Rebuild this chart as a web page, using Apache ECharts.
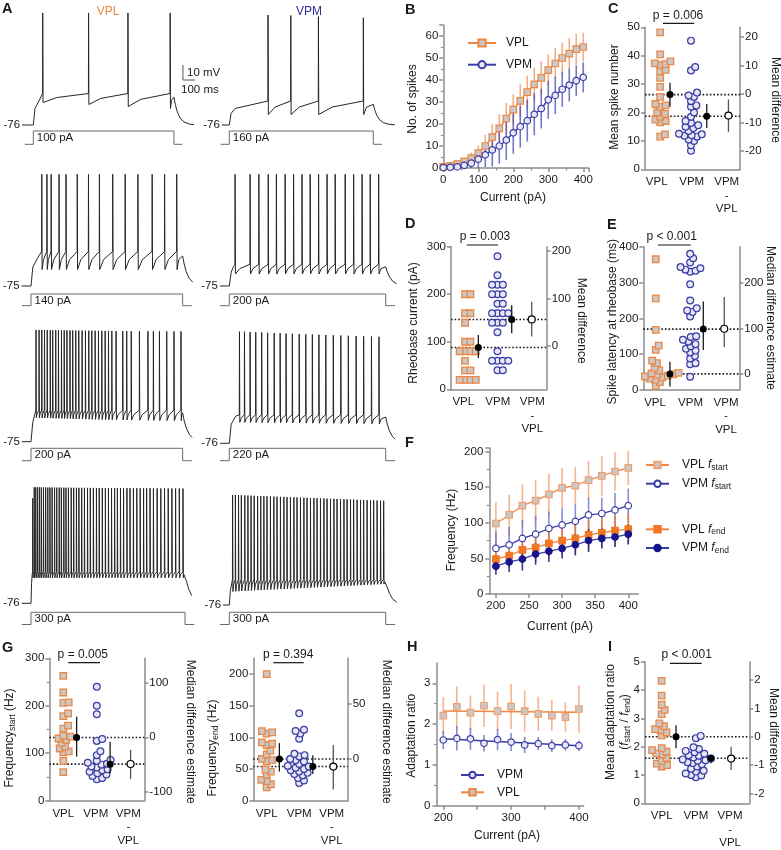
<!DOCTYPE html>
<html>
<head>
<meta charset="utf-8">
<title>VPL vs VPM firing</title>
<script src="https://cdn.jsdelivr.net/npm/echarts@6/dist/echarts.min.js"></script>
<style>
  html, body { margin: 0; padding: 0; background: #fff; }
  #main { width: 781px; height: 850px; }
</style>
</head>
<body>
<div id="main"></div>
<script>
'use strict';

// ---------- A: current steps and spike times (ms after step onset) ----------
var stimLabels = ['100 pA', '160 pA', '140 pA', '200 pA', '200 pA', '220 pA', '300 pA', '300 pA'];
var stimTimes = [-30, 0, 0, 500, 500, 530];
var stimLevels = [0, 0, 1, 1, 0, 0];

var spikesVpl100 = [33, 196, 336, 486];
var spikesVpm160 = [134, 213, 309, 465];
var spikesVpl140 = [35, 52, 66, 92, 115, 152, 189, 225, 269, 310, 352, 399, 440, 480];
var spikesVpm200 = [18, 66, 94, 124, 150, 178, 205, 232, 258, 285, 312, 338, 370, 397, 424, 450, 477];
var spikesVpl200 = [16, 26, 35, 44, 53, 63, 71, 81, 90, 100, 109, 118, 128, 137, 147, 157, 168, 179, 190, 200,
  211, 222, 233, 244, 255, 266, 280, 302, 315, 330, 357, 385, 403, 423, 447, 471, 494];
var spikesVpm220 = [32, 48, 66, 84, 103, 122, 143, 162, 181, 201, 223, 244, 265, 286, 308, 332, 356, 380, 405, 429, 454, 478];
var spikesVpl300 = [5, 10, 15, 21, 27, 33, 40, 47, 54, 61, 68, 76, 83, 91, 98, 106, 113, 121, 130, 138, 147, 155,
  164, 173, 183, 192, 202, 212, 221, 231, 241, 251, 261, 271, 280, 290, 300, 311, 321, 332, 343, 354, 365, 375,
  386, 397, 409, 421, 433, 445, 457, 469, 481, 493];
var spikesVpm300 = [10, 19, 29, 38, 49, 59, 69, 79, 90, 100, 110, 120, 131, 142, 152, 163, 174, 184, 195, 206, 216,
  227, 238, 248, 259, 270, 280, 291, 302, 312, 323, 334, 344, 355, 366, 376, 387, 397, 408, 419, 429, 440, 451,
  461, 472, 483, 493];

// membrane levels (mV) per trace: rest, after onset, spike threshold, peak [first, second, last], AHP [first, last]
var traceRest = [-76, -76, -75, -75, -75, -76, -76, -76];
var traceOnset = [-60, -65, -57, -62, -57, -58, -57, -62];
var traceThreshold = [-55, -60, -52, -60.5, -54, -57, -55, -59];
var tracePeak = [[-1.3, -1.3, -1.3], [-2.7, -3, -4.5], [-0.5, -0.5, -0.5], [-0.5, -0.5, -0.5],
  [-0.5, -0.5, -1.5], [-1.6, -1.6, -5], [-6, 1.3, 0.5], [-2.7, -2.7, -6.5]];
var traceAhp = [[-61, -65], [-69, -69], [-64, -64], [-67, -67], [-59, -61], [-62, -63], [-59, -59], [-67, -62]];
var traceWindow = [[-40, 571], [-26, 575], [-31, 533], [-30, 535], [-30, 531], [-30, 530], [-30, 522], [-20, 535]];
var scaleBar = [100, 10]; // ms, mV

// ---------- B ----------
var currentB = [0, 20, 40, 60, 80, 100, 120, 140, 160, 180, 200, 220, 240, 260, 280, 300, 320, 340, 360, 380, 400];
var spikeCountVpl = [0.5, 1, 1.8, 3, 4.5, 6.8, 10, 14, 18, 22.5, 26.5, 30.5, 34.5, 38, 41, 44.5, 47.5, 50, 52, 54, 55];
var spikeCountVplSem = [0.3, 0.6, 1, 1.5, 2.5, 3.5, 5, 6, 6.5, 7, 7, 7.5, 7.5, 7.5, 7.5, 7, 7, 7, 7, 7, 6.5];
var spikeCountVpm = [0.2, 0.3, 0.5, 1.2, 2.2, 4, 6, 8.2, 10, 12.7, 16, 18.8, 21.5, 24.4, 27, 31, 33, 35.8, 37.7, 39.7, 41.2];
var spikeCountVpmSem = [0.2, 0.4, 0.7, 1.5, 2.5, 4, 5.5, 7.5, 8, 9, 9.5, 9.5, 9.5, 9.5, 9, 8.6, 8.5, 8, 7.5, 7, 6.8];

// ---------- C, D, E, G, I: single cells and [centre, low, high] of VPL, VPM, VPM-VPL ----------
var groupNames = ['VPL', 'VPM', 'VPM\n-\nVPL'];
var pValues = ['p = 0.006', 'p = 0.003', 'p < 0.001', 'p = 0.005', 'p = 0.394', 'p < 0.001'];

var spikeNumVpl = [48.2, 40.5, 38, 37.3, 37, 36.8, 35, 34.5, 32.2, 29, 25.5, 23, 22.5, 22, 20, 19.5, 18.5, 17.5, 17, 16.5, 12.3, 11.5];
var spikeNumVpm = [45.3, 36, 34.8, 27, 26, 25.5, 24, 22.5, 22, 20, 18.5, 17, 16.3, 15.5, 15, 14.5, 13.5, 12.5, 12.3, 12, 11.8, 11.5, 10.5, 10, 8.5, 6.5];
var spikeNumStats = [[26.3, 22, 30.5], [18.7, 14.5, 23], [-7.6, -13.3, -1.9]];
var spikeNumRightTicks = [-20, -10, 0, 10, 20];

var rheobaseVpl = [200, 200, 160, 160, 140, 100, 100, 80, 80, 80, 80, 60, 40, 40, 20, 20, 20, 20];
var rheobaseVpm = [280, 240, 220, 220, 220, 200, 200, 200, 180, 180, 160, 160, 160, 160, 140, 140, 140, 120, 80, 60, 60, 60, 60, 40, 40];
var rheobaseStats = [[88, 66, 114], [147, 118, 177], [56, 20, 93]];
var rheobaseRightTicks = [0, 100, 200];

var latencyVpl = [365, 256, 168, 124, 112, 82, 75, 62, 55, 48, 46, 45, 44, 43, 42, 40, 38, 35, 32, 28, 22, 12];
var latencyVpm = [380, 368, 356, 343, 340, 336, 333, 330, 295, 250, 228, 222, 218, 205, 150, 148, 140, 135, 128, 122, 115, 110, 105, 95, 88, 75, 72, 37];
var latencyStats = [[45, 10, 79], [170, 112, 247], [100, 60, 170]];
var latencyRightTicks = [0, 100, 200];

var fStartCellsVpl = [263, 228, 207, 206, 184, 178, 158, 152, 137, 135, 131, 128, 122, 114, 110, 104, 102, 84, 60];
var fStartCellsVpm = [240, 200, 182, 130, 126, 104, 96, 86, 84, 80, 78, 76, 72, 70, 66, 64, 61, 58, 55, 52, 48, 45];
var fStartStats = [[133, 93, 177], [77, 58, 124], [-49, -76.5, -23]];
var fStartRightTicks = [-100, 0, 100];

var fEndCellsVpl = [200, 110, 108, 106, 92, 90, 88, 79, 73, 66, 64, 62, 49, 46, 41, 33, 31, 26, 21];
var fEndCellsVpm = [138, 112, 110, 106, 98, 74, 72, 70, 66, 64, 62, 58, 55, 54, 52, 50, 48, 46, 44, 42, 40, 36, 32, 28];
var fEndStats = [[66, 46, 91], [54, 42, 72], [-7, -28, 12.8]];
var fEndLeftTicks = [0, 50, 100, 150, 200];
var fEndRightTicks = [0, 50];

var adaptCellsVpl = [4.32, 3.8, 3.48, 3.3, 3.15, 2.82, 2.72, 2.62, 2.58, 2.5, 2.4, 1.95, 1.88, 1.82, 1.76, 1.72, 1.6, 1.5, 1.4, 1.35, 1.3];
var adaptCellsVpm = [2.38, 2.3, 1.98, 1.92, 1.85, 1.8, 1.75, 1.7, 1.68, 1.62, 1.58, 1.55, 1.52, 1.5, 1.45, 1.42, 1.38, 1.3, 1.22, 1.15, 1.12, 1.05, 1.0, 0.98, 0.92];
var adaptStats = [[2.35, 1.94, 2.76], [1.59, 1.41, 1.7], [-0.77, -1.17, -0.35]];
var adaptRightTicks = [-2, -1, 0, 1, 2];

// ---------- F ----------
var currentF = [200, 220, 240, 260, 280, 300, 320, 340, 360, 380, 400];
var fStartVpl = [99, 111, 124, 131, 140, 149, 152, 160, 166, 172, 177];
var fStartVplSd = [30, 28, 30, 29, 29, 28, 26, 27, 28, 27, 24];
var fStartVpm = [64, 69, 78, 84, 92, 97, 102, 111, 113, 118, 124];
var fStartVpmSd = [24, 25, 26, 26, 24, 24, 24, 24, 22, 24, 24];
var fEndVpl = [49, 54, 62, 65, 71, 75, 78, 83, 86, 89, 91];
var fEndVplSd = [16, 17, 18, 20, 20, 21, 21, 21, 21, 22, 22];
var fEndVpm = [39, 45, 49, 56, 60, 64, 69, 75, 78, 80, 84];
var fEndVpmSd = [12, 14, 16, 15, 15, 14, 15, 16, 14, 14, 14];

// ---------- H ----------
var adaptVpl = [2.21, 2.42, 2.28, 2.45, 2.32, 2.43, 2.32, 2.25, 2.21, 2.17, 2.37];
var adaptVplSd = [0.45, 0.5, 0.42, 0.52, 0.48, 0.55, 0.5, 0.42, 0.38, 0.36, 0.58];
var adaptVpm = [1.61, 1.65, 1.64, 1.53, 1.62, 1.56, 1.49, 1.52, 1.47, 1.49, 1.47];
var adaptVpmSd = [0.22, 0.3, 0.27, 0.2, 0.26, 0.22, 0.2, 0.16, 0.16, 0.14, 0.13];
var adaptTicks = [0, 1, 2, 3];
var fitCurrent = [200, 400];
var adaptFitVpl = [2.32, 2.29];
var adaptFitVpm = [1.64, 1.47];

// ---------- styling ----------
var FONT = "'Liberation Sans', Arial, Helvetica, sans-serif";
var INK = '#1a1a1a';
var AXIS = '#8c8c8c';
var ORANGE = '#EE8743';
var ORANGE_BAR = 'rgba(240,140,80,0.7)';
var ORANGE_DARK = '#F27722';
var BLUE = '#3B3DA6';
var BLUE_BAR = 'rgba(70,72,180,0.75)';
var NAVY = '#16168A';
var GREYFILL = '#C8C8C8';
var LILAC = '#E8E8F5';
var TRACE = '#262626';

var grids = [], xAxes = [], yAxes = [], series = [], graphics = [], legends = [];

function zip(a, b) { return a.map(function (v, i) { return [v, b[i]]; }); }

function addGrid(l, t, w, h) {
  grids.push({left: l, top: t, width: w, height: h, containLabel: false, outerBoundsMode: 'none'});
  return grids.length - 1;
}

function ax(o) {
  var a = {
    type: 'value', silent: true,
    axisLine: {show: true, onZero: false, lineStyle: {color: AXIS, width: 1.5}},
    axisTick: {show: true, length: 4, lineStyle: {color: AXIS, width: 1.5}},
    minorTick: {show: false, length: 2.5, lineStyle: {color: AXIS, width: 1.2}},
    axisLabel: {color: INK, fontSize: 11.5, fontFamily: FONT, margin: 5},
    splitLine: {show: false}
  };
  Object.keys(o).forEach(function (k) {
    if (a[k] && typeof a[k] === 'object' && o[k] && typeof o[k] === 'object' && !Array.isArray(o[k])) {
      a[k] = Object.assign({}, a[k], o[k]);
    } else {
      a[k] = o[k];
    }
  });
  return a;
}
function addX(o) { xAxes.push(ax(o)); return xAxes.length - 1; }
function addY(o) { yAxes.push(ax(o)); return yAxes.length - 1; }

function txt(x, y, s, opt) {
  opt = opt || {};
  graphics.push({
    type: 'text', x: x, y: y, rotation: opt.rot || 0, silent: true, z: 100,
    style: {
      text: s, fill: opt.color || INK, fontSize: opt.size || 11.5, fontFamily: FONT,
      fontWeight: opt.bold ? 'bold' : 'normal', align: opt.align || 'center',
      verticalAlign: opt.va || 'middle', rich: opt.rich, lineHeight: opt.lh
    }
  });
}
function seg(x1, y1, x2, y2) {
  graphics.push({type: 'line', silent: true, z: 100, shape: {x1: x1, y1: y1, x2: x2, y2: y2},
    style: {stroke: INK, lineWidth: 1.2}});
}

var RICH = {
  a: {fontSize: 12, fontFamily: FONT, color: INK, fill: INK},
  i: {fontSize: 12, fontFamily: FONT, fontStyle: 'italic', color: INK, fill: INK},
  s: {fontSize: 8.5, fontFamily: FONT, color: INK, fill: INK, verticalAlign: 'bottom', padding: [6, 0, 0, 0]}
};

function errBars(xi, yi, rows, color, width, z) {
  series.push({
    type: 'custom', xAxisIndex: xi, yAxisIndex: yi, silent: true, z: z || 1, animation: false,
    data: rows, encode: {x: 0, y: [1, 2]},
    renderItem: function (params, api) {
      var a = api.coord([api.value(0), api.value(1)]);
      var b = api.coord([api.value(0), api.value(2)]);
      return {type: 'line', shape: {x1: a[0], y1: a[1], x2: b[0], y2: b[1]},
        style: {stroke: color, lineWidth: width}};
    }
  });
}
function meanErr(xs, ys, es, floor) {
  return xs.map(function (x, i) { return [x, Math.max(floor, ys[i] - es[i]), ys[i] + es[i]]; });
}

// beeswarm: spread points sideways so markers of diameter d do not pile up
function swarm(values, cx, pxX, pxY, d) {
  var order = values.map(function (v, i) { return i; }).sort(function (a, b) { return values[a] - values[b]; });
  var placed = [], out = [];
  order.forEach(function (i) {
    var y = values[i] * pxY, off = 0;
    for (var k = 0; k < 100; k++) {
      var cand = (k % 2 ? 1 : -1) * Math.ceil(k / 2) * 0.6;
      var ok = placed.every(function (p) {
        var dx = p[0] - cand, dy = p[1] - y;
        return dx * dx + dy * dy >= d * d;
      });
      if (ok) { off = cand; break; }
    }
    placed.push([off, y]);
    out.push([cx + off / pxX, values[i]]);
  });
  return out;
}

// ---------- A: voltage traces ----------
var traceSpikes = [spikesVpl100, spikesVpm160, spikesVpl140, spikesVpm200, spikesVpl200, spikesVpm220, spikesVpl300, spikesVpm300];
// onset x, px per ms, y of rest, stimulus top y, stimulus bottom y
var traceLayout = [
  [33.3, 0.2813, 125, 131, 144.3],
  [229.3, 0.288, 125, 131, 144.3],
  [31, 0.3033, 286, 294, 305.7],
  [229.3, 0.3128, 286, 294, 305.7],
  [31, 0.3033, 441.7, 448.3, 460.7],
  [229.3, 0.3128, 443.3, 448.3, 460.7],
  [31, 0.308, 603.3, 612.3, 624.5],
  [229.3, 0.3128, 605, 612.3, 624.5]
];
var MV_PX = 1.5, V_MIN = -80, V_MAX = 5;

function buildTrace(i) {
  var s = traceSpikes[i], rest = traceRest[i], thr = traceThreshold[i], on = traceOnset[i];
  var pk = tracePeak[i], ah = traceAhp[i], win = traceWindow[i];
  var dur = stimTimes[3];
  var pts = [[win[0], rest], [0, rest]];
  pts.push([Math.min(6, s[0] * 0.35), rest + 0.7 * (on - rest)]);
  pts.push([Math.min(20, s[0] * 0.75), on]);
  var n = s.length;
  for (var j = 0; j < n; j++) {
    var t = s[j];
    var peak = j === 0 ? pk[0] : pk[1] + (pk[2] - pk[1]) * (n > 2 ? (j - 1) / (n - 2) : 0);
    var ahp = ah[0] + (ah[1] - ah[0]) * (n > 1 ? j / (n - 1) : 0);
    var next = j < n - 1 ? s[j + 1] : dur;
    pts.push([t, thr], [t + 0.5, peak], [t + 1.6, ahp]);
    var gap = next - t - 1.6;
    if (gap > 3) pts.push([t + 1.6 + 0.3 * gap, ahp + 0.55 * (thr - ahp)]);
  }
  var endLv = ah[1] + 0.75 * (thr - ah[1]);
  pts.push([dur, endLv]);
  [5, 12, 22, 35, 55].forEach(function (k) {
    if (dur + k < win[1]) pts.push([dur + k, rest + (endLv - rest) * Math.exp(-k / 16)]);
  });
  pts.push([win[1], rest + (endLv - rest) * Math.exp(-(win[1] - dur) / 16)]);
  return pts;
}

traceLayout.forEach(function (L, i) {
  var win = traceWindow[i], rest = traceRest[i];
  var gi = addGrid(L[0] + win[0] * L[1], L[2] - (V_MAX - rest) * MV_PX, (win[1] - win[0]) * L[1], (V_MAX - V_MIN) * MV_PX);
  xAxes.push({type: 'value', gridIndex: gi, show: false, min: win[0], max: win[1]});
  yAxes.push({type: 'value', gridIndex: gi, min: V_MIN, max: V_MAX,
    axisLine: {show: false, onZero: false}, axisTick: {show: false}, splitLine: {show: false},
    axisLabel: {customValues: [rest], formatter: function (v) { return String(v); },
      fontSize: 11.5, fontFamily: FONT, color: INK, margin: 2}});
  var xi = xAxes.length - 1, yi = yAxes.length - 1;
  series.push({type: 'line', xAxisIndex: xi, yAxisIndex: yi, data: buildTrace(i), symbol: 'none',
    lineStyle: {color: TRACE, width: 1}, clip: false, silent: true, animation: false});

  if (i === 0) {
    var bx = 532, by = -46;
    series.push({type: 'line', xAxisIndex: xi, yAxisIndex: yi, symbol: 'none', clip: false, silent: true, animation: false,
      data: [[bx, by + scaleBar[1]], [bx, by], [bx + scaleBar[0], by]], lineStyle: {color: '#555', width: 1}});
  }

  var t0 = stimTimes[0], t1 = stimTimes[stimTimes.length - 1];
  var sg = addGrid(L[0] + t0 * L[1], L[3], (t1 - t0) * L[1], L[4] - L[3]);
  xAxes.push({type: 'value', gridIndex: sg, show: false, min: t0, max: t1});
  yAxes.push({type: 'value', gridIndex: sg, show: false, min: 0, max: 1});
  series.push({type: 'line', xAxisIndex: xAxes.length - 1, yAxisIndex: yAxes.length - 1,
    data: zip(stimTimes, stimLevels), symbol: 'none', clip: false, silent: true, animation: false,
    lineStyle: {color: '#6a6a6a', width: 1}});
  txt(L[0] + 3.5, (L[3] + L[4]) / 2 + 0.5, stimLabels[i], {align: 'left'});
});
txt(108, 11.5, 'VPL', {color: ORANGE, size: 12});
txt(309, 11.5, 'VPM', {color: '#2E2E9E', size: 12});
txt(187, 72.5, scaleBar[1] + ' mV', {align: 'left'});
txt(181, 89.5, scaleBar[0] + ' ms', {align: 'left'});

// ---------- B ----------
(function () {
  var gi = addGrid(443.3, 25, 145.2, 143);
  var xi = addX({gridIndex: gi, min: 0, max: 415, interval: 100, minorTick: {show: true, splitNumber: 2},
    axisLabel: {margin: 6, showMaxLabel: false}});
  var yi = addY({gridIndex: gi, min: 0, max: 65, interval: 10, minorTick: {show: true, splitNumber: 2},
    axisLabel: {showMaxLabel: false}});
  errBars(xi, yi, meanErr(currentB, spikeCountVpl, spikeCountVplSem, 0), ORANGE_BAR, 1.6, 1);
  errBars(xi, yi, meanErr(currentB, spikeCountVpm, spikeCountVpmSem, 0), BLUE_BAR, 1.6, 1);
  series.push({type: 'line', name: 'VPL', xAxisIndex: xi, yAxisIndex: yi, data: zip(currentB, spikeCountVpl),
    smooth: 0.3, symbol: 'rect', symbolSize: 6.5, showSymbol: true, animation: false, z: 3,
    itemStyle: {color: GREYFILL, borderColor: ORANGE, borderWidth: 1.2}, lineStyle: {color: ORANGE, width: 1.5}});
  series.push({type: 'line', name: 'VPM', xAxisIndex: xi, yAxisIndex: yi, data: zip(currentB, spikeCountVpm),
    smooth: 0.3, symbol: 'circle', symbolSize: 6.5, showSymbol: true, animation: false, z: 3,
    itemStyle: {color: LILAC, borderColor: BLUE, borderWidth: 1.2}, lineStyle: {color: BLUE, width: 1.5}});
  legends.push({left: 462, top: 31, orient: 'vertical', data: ['VPL', 'VPM'], itemWidth: 28, itemHeight: 9,
    itemGap: 7.7, selectedMode: false, textStyle: {fontSize: 12, fontFamily: FONT, color: INK, padding: [0, 0, 0, 5], lineHeight: 14}});
  txt(413, 99, 'No. of spikes', {rot: Math.PI / 2, size: 12});
  txt(513, 198, 'Current (pA)', {size: 12});
})();

// ---------- estimation panels ----------
function estimationPanel(o) {
  var b = o.box, xr = o.xr, yr = o.yr;
  var gi = addGrid(b[0], b[1], b[2], b[3]);
  var pxX = b[2] / (xr[1] - xr[0]), pxY = b[3] / (yr[1] - yr[0]);
  var X = function (v) { return b[0] + (v - xr[0]) * pxX; };
  var xi = addX({gridIndex: gi, min: xr[0], max: xr[1], axisTick: {show: false},
    axisLabel: {customValues: [0, 1, 2], margin: 6, lineHeight: 13.5,
      formatter: function (v) { return groupNames[Math.round(v)]; }}});
  var left = {gridIndex: gi, position: 'left', min: yr[0], max: yr[1], interval: yr[2],
    minorTick: {show: !!o.minor, splitNumber: 2}};
  if (o.leftTicks) {
    left.axisTick = {customValues: o.leftTicks};
    left.axisLabel = {customValues: o.leftTicks, formatter: function (v) { return String(v); }};
  }
  var yl = addY(left);
  var yR = addY({gridIndex: gi, position: 'right', min: (yr[0] - o.rZero) / o.rScale, max: (yr[1] - o.rZero) / o.rScale,
    axisTick: {customValues: o.rTicks}, axisLabel: {customValues: o.rTicks, formatter: function (v) { return String(v); }}});

  [o.stats[0][0], o.stats[1][0]].forEach(function (v) {
    series.push({type: 'line', xAxisIndex: xi, yAxisIndex: yl, data: [[xr[0], v], [xr[1], v]], symbol: 'none',
      lineStyle: {color: INK, width: 1.6, type: [1.6, 2]}, silent: true, animation: false, z: 1});
  });
  series.push({type: 'scatter', xAxisIndex: xi, yAxisIndex: yl, data: swarm(o.vpl, o.centers[0], pxX, pxY, 5.2),
    symbol: 'rect', symbolSize: 6.5, silent: true, animation: false, z: 3,
    itemStyle: {color: GREYFILL, borderColor: ORANGE, borderWidth: 1.3, opacity: 1}});
  series.push({type: 'scatter', xAxisIndex: xi, yAxisIndex: yl, data: swarm(o.vpm, o.centers[1], pxX, pxY, 5.2),
    symbol: 'circle', symbolSize: 6.8, silent: true, animation: false, z: 3,
    itemStyle: {color: LILAC, borderColor: BLUE, borderWidth: 1.2, opacity: 1}});
  errBars(xi, yl, [[o.dotX[0], o.stats[0][1], o.stats[0][2]], [o.dotX[1], o.stats[1][1], o.stats[1][2]]], INK, 1.3, 4);
  errBars(xi, yR, [[o.dotX[2], o.stats[2][1], o.stats[2][2]]], '#555', 1.3, 4);
  series.push({type: 'scatter', xAxisIndex: xi, yAxisIndex: yl, symbol: 'circle', symbolSize: 7, silent: true, animation: false, z: 5,
    data: [[o.dotX[0], o.stats[0][0]], [o.dotX[1], o.stats[1][0]]], itemStyle: {color: '#000', opacity: 1}});
  series.push({type: 'scatter', xAxisIndex: xi, yAxisIndex: yR, symbol: 'circle', symbolSize: 7, silent: true, animation: false, z: 5,
    data: [[o.dotX[2], o.stats[2][0]]], itemStyle: {color: '#fff', borderColor: '#000', borderWidth: 1.2, opacity: 1}});

  seg(X(o.bracket[0]), o.bracket[2], X(o.bracket[1]), o.bracket[2]);
  txt(X(o.pAt[0]), o.pAt[1], o.p, {size: 12});
  txt(o.leftTitle[0], o.leftTitle[1], o.leftTitle[2], {rot: Math.PI / 2, size: 12, rich: RICH, lh: 14});
  txt(o.rightTitle[0], o.rightTitle[1], o.rightTitle[2], {rot: -Math.PI / 2, size: 12});
}

estimationPanel({box: [645, 27.3, 95, 142], xr: [-0.334, 2.38], yr: [0, 50, 10], rZero: 26.5, rScale: 1,
  rTicks: spikeNumRightTicks, vpl: spikeNumVpl, vpm: spikeNumVpm, stats: spikeNumStats, centers: [0.1, 0.98],
  dotX: [0.38, 1.43, 2.05], bracket: [0.18, 1.07, 23.3], pAt: [0.61, 15.5], p: pValues[0],
  leftTitle: [615, 97, 'Mean spike number'], rightTitle: [775, 100, 'Mean difference']});

estimationPanel({box: [451, 246.7, 95.7, 142.6], xr: [-0.357, 2.417], yr: [0, 300, 100], rZero: 91, rScale: 1,
  rTicks: rheobaseRightTicks, vpl: rheobaseVpl, vpm: rheobaseVpm, stats: rheobaseStats, centers: [0.05, 0.99],
  dotX: [0.435, 1.403, 1.983], bracket: [0.1, 1.01, 245], pAt: [0.63, 236.7], p: pValues[1],
  leftTitle: [414, 323, 'Rheobase current (pA)'], rightTitle: [581, 320.7, 'Mean difference']});

estimationPanel({box: [643.3, 246.7, 96, 143.3], xr: [-0.33, 2.374], yr: [0, 400, 100], rZero: 44, rScale: 1.27,
  rTicks: latencyRightTicks, vpl: latencyVpl, vpm: latencyVpm, stats: latencyStats, centers: [0.02, 0.99],
  dotX: [0.42, 1.36, 1.95], bracket: [0.08, 1.01, 245], pAt: [0.47, 236.7], p: pValues[2],
  leftTitle: [613, 321.7, 'Spike latency at rheobase (ms)'], rightTitle: [770, 318, 'Median difference estimate']});

estimationPanel({box: [49.3, 658.3, 95, 142.4], xr: [-0.431, 2.492], yr: [0, 300, 100], minor: true, rZero: 133.6, rScale: 1.149,
  rTicks: fStartRightTicks, vpl: fStartCellsVpl, vpm: fStartCellsVpm, stats: fStartStats, centers: [0, 1.03],
  dotX: [0.41, 1.44, 2.07], bracket: [0.15, 1.13, 662.7], pAt: [0.6, 655], p: pValues[3],
  leftTitle: [10, 738, '{a|Frequency}{s|start}{a| (Hz)}'], rightTitle: [190, 731.7, 'Median difference estimate']});

estimationPanel({box: [253.3, 658.3, 94.4, 142.4], xr: [-0.412, 2.493], yr: [0, 225, 50], leftTicks: fEndLeftTicks,
  rZero: 66, rScale: 1.73,
  rTicks: fEndRightTicks, vpl: fEndCellsVpl, vpm: fEndCellsVpm, stats: fEndStats, centers: [0, 1.0],
  dotX: [0.39, 1.42, 2.05], bracket: [0.2, 1.14, 662.7], pAt: [0.66, 655], p: pValues[4],
  leftTitle: [213, 748, '{a|Frequency}{s|end}{a| (Hz)}'], rightTitle: [386.7, 731.7, 'Median difference estimate']});

estimationPanel({box: [645, 661.7, 104.3, 141.6], xr: [-0.488, 2.562], yr: [0, 5, 1], rZero: 2.35, rScale: 1,
  rTicks: adaptRightTicks, vpl: adaptCellsVpl, vpm: adaptCellsVpm, stats: adaptStats, centers: [0, 1.0],
  dotX: [0.42, 1.44, 2.03], bracket: [0.24, 1.17, 663.3], pAt: [0.73, 655], p: pValues[5],
  leftTitle: [618, 722, '{a|Mean adaptation ratio}\n{a|(}{i|f}{s|start}{a| / }{i|f}{s|end}{a|)}'],
  rightTitle: [773, 730.8, 'Mean difference']});

// ---------- F ----------
(function () {
  var gi = addGrid(489.3, 448, 148.9, 146);
  var xi = addX({gridIndex: gi, min: 190, max: 415, axisTick: {customValues: [200, 250, 300, 350, 400]},
    axisLabel: {customValues: [200, 250, 300, 350, 400], margin: 6}});
  var yi = addY({gridIndex: gi, min: 0, max: 205, interval: 50, minorTick: {show: true, splitNumber: 2},
    axisLabel: {margin: 6, showMaxLabel: false}});
  errBars(xi, yi, meanErr(currentF, fStartVpl, fStartVplSd, 0), 'rgba(240,140,80,0.65)', 1.6, 1);
  errBars(xi, yi, meanErr(currentF, fStartVpm, fStartVpmSd, 0), 'rgba(90,92,200,0.7)', 1.6, 1);
  errBars(xi, yi, meanErr(currentF, fEndVpl, fEndVplSd, 0), 'rgba(242,119,34,0.8)', 1.6, 1);
  errBars(xi, yi, meanErr(currentF, fEndVpm, fEndVpmSd, 0), 'rgba(22,22,138,0.85)', 1.6, 1);
  function ln(name, ys, sym, fill, border, line) {
    series.push({type: 'line', name: name, xAxisIndex: xi, yAxisIndex: yi, data: zip(currentF, ys), symbol: sym,
      symbolSize: 6.5, showSymbol: true, animation: false, z: 3,
      itemStyle: {color: fill, borderColor: border, borderWidth: 1.2}, lineStyle: {color: line, width: 1.3}});
  }
  ln('VPL fstart', fStartVpl, 'rect', GREYFILL, '#F0A070', ORANGE);
  ln('VPM fstart', fStartVpm, 'circle', '#fff', BLUE, BLUE);
  ln('VPL fend', fEndVpl, 'rect', ORANGE_DARK, ORANGE_DARK, ORANGE);
  ln('VPM fend', fEndVpm, 'circle', NAVY, NAVY, BLUE);
  var fmt = function (name) {
    var p = name.split(' ');
    return '{n|' + p[0] + ' }{i|f}{s|' + p[1].slice(1) + '}';
  };
  var rich = {
    n: {fontSize: 12, fontFamily: FONT, color: INK, lineHeight: 14},
    i: {fontSize: 12, fontFamily: FONT, fontStyle: 'italic', color: INK, lineHeight: 14},
    s: {fontSize: 8.5, fontFamily: FONT, color: INK, verticalAlign: 'bottom', lineHeight: 14, padding: [6, 0, 0, 0]}
  };
  [[['VPL fstart', 'VPM fstart'], 452], [['VPL fend', 'VPM fend'], 516.3]].forEach(function (g) {
    legends.push({left: 640, top: g[1], orient: 'vertical', data: g[0], itemWidth: 23, itemHeight: 8, itemGap: 3.7,
      selectedMode: false, formatter: fmt,
      textStyle: {fontSize: 12, fontFamily: FONT, color: INK, padding: [0, 0, 0, 8], lineHeight: 14, rich: rich}});
  });
  txt(451.7, 530, 'Frequency (Hz)', {rot: Math.PI / 2, size: 12});
  txt(560, 627, 'Current (pA)', {size: 12});
})();

// ---------- H ----------
(function () {
  var gi = addGrid(436.5, 662.9, 147.2, 142.8);
  var xi = addX({gridIndex: gi, min: 190, max: 407, axisTick: {customValues: [200, 250, 300, 350, 400]},
    axisLabel: {customValues: [200, 300, 400], margin: 6}});
  var yi = addY({gridIndex: gi, min: 0, max: 3.5, interval: 1, minorTick: {show: true, splitNumber: 2},
    axisTick: {customValues: adaptTicks},
    axisLabel: {margin: 6, customValues: adaptTicks, formatter: function (v) { return String(v); }}});
  errBars(xi, yi, meanErr(currentF, adaptVpl, adaptVplSd, 0), 'rgba(240,140,80,0.65)', 1.6, 1);
  errBars(xi, yi, meanErr(currentF, adaptVpm, adaptVpmSd, 0), 'rgba(80,82,195,0.7)', 1.6, 1);
  series.push({type: 'scatter', xAxisIndex: xi, yAxisIndex: yi, data: zip(currentF, adaptVpl), symbol: 'rect', symbolSize: 6.5,
    silent: true, animation: false, z: 4, itemStyle: {color: GREYFILL, borderColor: '#F0A070', borderWidth: 1.2, opacity: 1}});
  series.push({type: 'scatter', xAxisIndex: xi, yAxisIndex: yi, data: zip(currentF, adaptVpm), symbol: 'circle', symbolSize: 6.5,
    silent: true, animation: false, z: 4, itemStyle: {color: LILAC, borderColor: BLUE, borderWidth: 1.2, opacity: 1}});
  function fit(name, ys, sym, fill, border, line) {
    series.push({type: 'line', name: name, xAxisIndex: xi, yAxisIndex: yi, symbol: sym, symbolSize: 6.5, animation: false, z: 3,
      data: zip(fitCurrent, ys).map(function (p) { return {value: p, symbol: 'none'}; }),
      itemStyle: {color: fill, borderColor: border, borderWidth: 1.2}, lineStyle: {color: line, width: 1.5}});
  }
  fit('h:VPM', adaptFitVpm, 'circle', LILAC, BLUE, BLUE);
  fit('h:VPL', adaptFitVpl, 'rect', GREYFILL, ORANGE, ORANGE);
  legends.push({left: 455, top: 763, orient: 'vertical', data: ['h:VPM', 'h:VPL'], itemWidth: 23, itemHeight: 8, itemGap: 3.3,
    selectedMode: false, formatter: function (n) { return n.slice(2); },
    textStyle: {fontSize: 12, fontFamily: FONT, color: INK, padding: [0, 0, 0, 8], lineHeight: 14}});
  txt(411.7, 735.8, 'Adaptation ratio', {rot: Math.PI / 2, size: 12});
  txt(507, 836, 'Current (pA)', {size: 12});
})();

// ---------- panel letters ----------
[['A', 2, 9], ['B', 405, 10], ['C', 608, 8.5], ['D', 405, 223.5], ['E', 607, 225], ['F', 405, 443],
  ['G', 2, 648], ['H', 407, 647], ['I', 608, 647]].forEach(function (l) {
  txt(l[1], l[2], l[0], {bold: true, size: 14.5, align: 'left'});
});

var chart = echarts.init(document.getElementById('main'), null, {renderer: 'canvas'});
chart.setOption({
  animation: false,
  backgroundColor: '#fff',
  textStyle: {fontFamily: FONT},
  grid: grids,
  xAxis: xAxes,
  yAxis: yAxes,
  legend: legends,
  series: series,
  graphic: {elements: graphics}
});
</script>
</body>
</html>
